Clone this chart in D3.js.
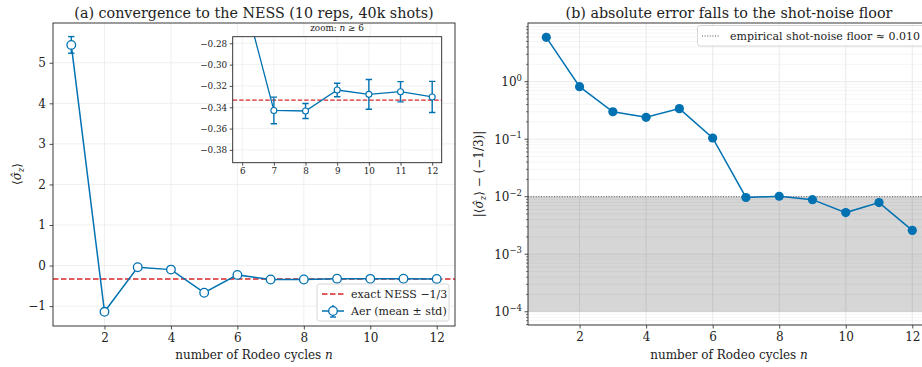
<!DOCTYPE html>
<html>
<head>
<meta charset="utf-8">
<script src="https://cdn.jsdelivr.net/npm/d3@7"></script>
<style>
  body { margin: 0; background: #fff; }
  svg { font-family: "DejaVu Serif", serif; }
  .tick text { fill: #222; font-family: "DejaVu Serif", serif; }
</style>
</head>
<body>
<div id="chart"></div>
<script>
// data
const cycles = [1, 2, 3, 4, 5, 6, 7, 8, 9, 10, 11, 12];
const meanSz = [5.44, -1.14, -0.04, -0.10, -0.67, -0.23, -0.343, -0.3435, -0.3238, -0.3279, -0.3254, -0.3303];
const stdSz = [0.205, 0.05, 0.04, 0.04, 0.05, 0.03, 0.0125, 0.007, 0.0064, 0.014, 0.0095, 0.0146];
const absErr = [5.9, 0.82, 0.30, 0.24, 0.34, 0.105, 0.0097, 0.0102, 0.0089, 0.0053, 0.0079, 0.0026];
const target = -1 / 3;
const floorVal = 0.010;
const floorLow = 1e-4;
const xTicks = [2, 4, 6, 8, 10, 12];
const yTicksA = [-1, 0, 1, 2, 3, 4, 5];
const insetFrom = 6; // inset shows n >= 6
const insetXTicks = [6, 7, 8, 9, 10, 11, 12];
const insetYTicks = [-0.38, -0.36, -0.34, -0.32, -0.30, -0.28];
const logTicks = [-4, -3, -2, -1, 0];

const blue = '#0072b2';
const red = '#d62728';
const gridCol = '#ebebeb';
const minus = s => String(s).replace('-', '\u2212');

const svg = d3.select('#chart').append('svg')
  .attr('width', 922).attr('height', 367);

svg.append('clipPath').attr('id', 'clipA').append('rect')
  .attr('x', 53).attr('y', 23).attr('width', 402).attr('height', 303);
svg.append('clipPath').attr('id', 'clipB').append('rect')
  .attr('x', 528).attr('y', 23).attr('width', 403).attr('height', 302);
svg.append('clipPath').attr('id', 'clipIn').append('rect')
  .attr('x', 232.7).attr('y', 36.7).attr('width', 209).attr('height', 126);

function styleAxis(g, fs) {
  g.attr('font-family', null);
  g.selectAll('.domain').remove();
  g.selectAll('.tick line').attr('stroke', '#222').attr('stroke-width', 0.8);
  g.selectAll('.tick text').attr('font-size', fs);
}

function frame(x0, y0, x1, y1) {
  svg.append('rect').attr('x', x0).attr('y', y0)
    .attr('width', x1 - x0).attr('height', y1 - y0)
    .attr('fill', 'none').attr('stroke', '#222').attr('stroke-width', 0.9);
}

// ---------- panel (a) ----------
const xA = d3.scaleLinear().domain([0.45, 12.55]).range([53, 455]);
const yA = d3.scaleLinear().domain([-1.49, 5.98]).range([326, 23]);

const gA = svg.append('g');
gA.append('g').selectAll('line').data(xTicks).join('line')
  .attr('x1', d => xA(d)).attr('x2', d => xA(d)).attr('y1', 23).attr('y2', 326)
  .attr('stroke', gridCol).attr('stroke-width', 0.8);
gA.append('g').selectAll('line').data(yTicksA).join('line')
  .attr('y1', d => yA(d)).attr('y2', d => yA(d)).attr('x1', 53).attr('x2', 455)
  .attr('stroke', gridCol).attr('stroke-width', 0.8);

const plotA = gA.append('g').attr('clip-path', 'url(#clipA)');
plotA.append('line')
  .attr('x1', 53).attr('x2', 455).attr('y1', yA(target)).attr('y2', yA(target))
  .attr('stroke', red).attr('stroke-width', 1.5).attr('stroke-dasharray', '5.5,2.5');

const line = (xs, ys, off) => d3.line().x((d, i) => xs(cycles[i + off])).y(d => ys(d));

function errorbars(g, xs, ys, idx) {
  const eb = g.append('g').selectAll('g').data(idx).join('g');
  eb.append('line')
    .attr('x1', i => xs(cycles[i])).attr('x2', i => xs(cycles[i]))
    .attr('y1', i => ys(meanSz[i] - stdSz[i])).attr('y2', i => ys(meanSz[i] + stdSz[i]))
    .attr('stroke', blue).attr('stroke-width', 1.4);
  [-1, 1].forEach(s => {
    eb.append('line')
      .attr('x1', i => xs(cycles[i]) - 3.2).attr('x2', i => xs(cycles[i]) + 3.2)
      .attr('y1', i => ys(meanSz[i] + s * stdSz[i])).attr('y2', i => ys(meanSz[i] + s * stdSz[i]))
      .attr('stroke', blue).attr('stroke-width', 1.4);
  });
}

errorbars(plotA, xA, yA, d3.range(cycles.length));
plotA.append('path').datum(meanSz).attr('d', line(xA, yA, 0))
  .attr('fill', 'none').attr('stroke', blue).attr('stroke-width', 1.5);
plotA.append('g').selectAll('circle').data(meanSz).join('circle')
  .attr('cx', (d, i) => xA(cycles[i])).attr('cy', d => yA(d)).attr('r', 4.3)
  .attr('fill', '#fff').attr('stroke', blue).attr('stroke-width', 1.3);

const axA = svg.append('g').attr('transform', 'translate(0,326)')
  .call(d3.axisBottom(xA).tickValues(xTicks).tickSize(3.5).tickPadding(3.5));
styleAxis(axA, 12);
const ayA = svg.append('g').attr('transform', 'translate(53,0)')
  .call(d3.axisLeft(yA).tickValues(yTicksA).tickSize(3.5).tickPadding(3.5).tickFormat(d => minus(d)));
styleAxis(ayA, 12);

// legend (a)
const legA = svg.append('g');
legA.append('rect').attr('x', 317).attr('y', 284).attr('width', 132).attr('height', 37)
  .attr('rx', 2.5).attr('fill', '#fff').attr('fill-opacity', 0.85)
  .attr('stroke', '#ccc').attr('stroke-width', 0.8);
legA.append('line').attr('x1', 322).attr('x2', 344).attr('y1', 294).attr('y2', 294)
  .attr('stroke', red).attr('stroke-width', 1.5).attr('stroke-dasharray', '5.5,2.5');
legA.append('text').attr('x', 351).attr('y', 298).attr('font-size', 11).attr('fill', '#222')
  .text('exact NESS \u22121/3');
legA.append('line').attr('x1', 322).attr('x2', 344).attr('y1', 311).attr('y2', 311)
  .attr('stroke', blue).attr('stroke-width', 1.5);
legA.append('line').attr('x1', 333).attr('x2', 333).attr('y1', 305).attr('y2', 317)
  .attr('stroke', blue).attr('stroke-width', 1.4);
legA.append('line').attr('x1', 330).attr('x2', 336).attr('y1', 317).attr('y2', 317)
  .attr('stroke', blue).attr('stroke-width', 1.4);
legA.append('circle').attr('cx', 333).attr('cy', 311).attr('r', 4.3)
  .attr('fill', '#fff').attr('stroke', blue).attr('stroke-width', 1.3);
legA.append('text').attr('x', 351).attr('y', 315).attr('font-size', 11).attr('fill', '#222')
  .text('Aer (mean \u00b1 std)');

frame(53, 23, 455, 326);

// ---------- inset ----------
const xI = d3.scaleLinear().domain([5.7, 12.3]).range([232.7, 441.7]);
const yI = d3.scaleLinear().domain([-0.392, -0.2738]).range([162.7, 36.7]);
const k0 = cycles.indexOf(insetFrom);

svg.append('rect').attr('x', 232.7).attr('y', 36.7).attr('width', 209).attr('height', 126)
  .attr('fill', '#fff');
const gI = svg.append('g');
gI.append('g').selectAll('line').data(insetXTicks).join('line')
  .attr('x1', d => xI(d)).attr('x2', d => xI(d)).attr('y1', 36.7).attr('y2', 162.7)
  .attr('stroke', gridCol).attr('stroke-width', 0.7);
gI.append('g').selectAll('line').data(insetYTicks).join('line')
  .attr('y1', d => yI(d)).attr('y2', d => yI(d)).attr('x1', 232.7).attr('x2', 441.7)
  .attr('stroke', gridCol).attr('stroke-width', 0.7);
const plotI = gI.append('g').attr('clip-path', 'url(#clipIn)');
plotI.append('line')
  .attr('x1', 232.7).attr('x2', 441.7).attr('y1', yI(target)).attr('y2', yI(target))
  .attr('stroke', red).attr('stroke-width', 1.3).attr('stroke-dasharray', '4.5,2');
errorbars(plotI, xI, yI, d3.range(k0, cycles.length));
plotI.append('path').datum(meanSz.slice(k0)).attr('d', line(xI, yI, k0))
  .attr('fill', 'none').attr('stroke', blue).attr('stroke-width', 1.3);
plotI.append('g').selectAll('circle').data(meanSz.slice(k0)).join('circle')
  .attr('cx', (d, i) => xI(cycles[i + k0])).attr('cy', d => yI(d)).attr('r', 3)
  .attr('fill', '#fff').attr('stroke', blue).attr('stroke-width', 1.1);

const axI = svg.append('g').attr('transform', 'translate(0,162.7)')
  .call(d3.axisBottom(xI).tickValues(insetXTicks).tickSize(3).tickPadding(2.5).tickFormat(d3.format('d')));
styleAxis(axI, 8.8);
const ayI = svg.append('g').attr('transform', 'translate(232.7,0)')
  .call(d3.axisLeft(yI).tickValues(insetYTicks).tickSize(3).tickPadding(2.5)
    .tickFormat(d => minus(d3.format('.2f')(d))));
styleAxis(ayI, 8.8);
frame(232.7, 36.7, 441.7, 162.7);

const tI = svg.append('text').attr('x', 337).attr('y', 31).attr('text-anchor', 'middle')
  .attr('font-size', 8.8).attr('fill', '#222');
tI.append('tspan').text('zoom: ');
tI.append('tspan').attr('font-style', 'italic').text('n');
tI.append('tspan').text(' \u2265 6');

// ---------- panel (b) ----------
const xB = d3.scaleLinear().domain([0.45, 12.55]).range([528, 930.6]);
const yB = d3.scaleLog().domain([Math.pow(10, -4.23), Math.pow(10, 1.02)]).range([325, 23]);

const minorVals = [];
for (let e = -5; e <= 1; e++) for (let m = 2; m <= 9; m++) {
  const v = m * Math.pow(10, e);
  if (v > yB.domain()[0] && v < yB.domain()[1]) minorVals.push(v);
}
const majorVals = logTicks.map(e => Math.pow(10, e));

const gB = svg.append('g');
gB.append('g').selectAll('line').data(minorVals).join('line')
  .attr('y1', d => yB(d)).attr('y2', d => yB(d)).attr('x1', 528).attr('x2', 931)
  .attr('stroke', '#f0f0f0').attr('stroke-width', 0.7);
gB.append('g').selectAll('line').data(majorVals).join('line')
  .attr('y1', d => yB(d)).attr('y2', d => yB(d)).attr('x1', 528).attr('x2', 931)
  .attr('stroke', '#e4e4e4').attr('stroke-width', 0.8);
gB.append('g').selectAll('line').data(xTicks).join('line')
  .attr('x1', d => xB(d)).attr('x2', d => xB(d)).attr('y1', 23).attr('y2', 325)
  .attr('stroke', '#e4e4e4').attr('stroke-width', 0.8);

const plotB = gB.append('g').attr('clip-path', 'url(#clipB)');
plotB.append('rect').attr('x', 528).attr('width', 403)
  .attr('y', yB(floorVal)).attr('height', yB(floorLow) - yB(floorVal))
  .attr('fill', '#000').attr('fill-opacity', 0.16);
plotB.append('line').attr('x1', 528).attr('x2', 931)
  .attr('y1', yB(floorVal)).attr('y2', yB(floorVal))
  .attr('stroke', '#555').attr('stroke-width', 1).attr('stroke-dasharray', '1,1.6');
plotB.append('path').datum(absErr).attr('d', line(xB, yB, 0))
  .attr('fill', 'none').attr('stroke', blue).attr('stroke-width', 1.5);
plotB.append('g').selectAll('circle').data(absErr).join('circle')
  .attr('cx', (d, i) => xB(cycles[i])).attr('cy', d => yB(d)).attr('r', 4.6)
  .attr('fill', blue);

const axB = svg.append('g').attr('transform', 'translate(0,325)')
  .call(d3.axisBottom(xB).tickValues(xTicks).tickSize(3.5).tickPadding(3.5));
styleAxis(axB, 12);

const ayB = svg.append('g').attr('transform', 'translate(528,0)');
ayB.selectAll('line.minor').data(minorVals).join('line').attr('class', 'minor')
  .attr('x1', -2).attr('x2', 0).attr('y1', d => yB(d)).attr('y2', d => yB(d))
  .attr('stroke', '#222').attr('stroke-width', 0.6);
ayB.selectAll('line.major').data(majorVals).join('line').attr('class', 'major')
  .attr('x1', -3.5).attr('x2', 0).attr('y1', d => yB(d)).attr('y2', d => yB(d))
  .attr('stroke', '#222').attr('stroke-width', 0.8);
const lt = ayB.selectAll('text').data(logTicks).join('text')
  .attr('x', -6).attr('y', e => yB(Math.pow(10, e)) + 4.5)
  .attr('text-anchor', 'end').attr('font-size', 12).attr('fill', '#222');
lt.append('tspan').text('10');
lt.append('tspan').attr('dy', -5.5).attr('font-size', 8.5).text(e => minus(e));

frame(528, 23, 931, 325);

// legend (b)
const legB = svg.append('g');
legB.append('rect').attr('x', 697.5).attr('y', 25.5).attr('width', 230).attr('height', 20.5)
  .attr('rx', 2.5).attr('fill', '#fff').attr('fill-opacity', 0.85)
  .attr('stroke', '#ccc').attr('stroke-width', 0.8);
legB.append('line').attr('x1', 702).attr('x2', 720).attr('y1', 36).attr('y2', 36)
  .attr('stroke', '#555').attr('stroke-width', 1).attr('stroke-dasharray', '1,1.6');
legB.append('text').attr('x', 730).attr('y', 40).attr('font-size', 11).attr('fill', '#222')
  .text('empirical shot-noise floor \u2248 0.010');

// ---------- titles and labels ----------
svg.append('text').attr('x', 254).attr('y', 17.5).attr('text-anchor', 'middle')
  .attr('font-size', 14.3).attr('fill', '#222')
  .text('(a) convergence to the NESS (10 reps, 40k shots)');
svg.append('text').attr('x', 729).attr('y', 17.5).attr('text-anchor', 'middle')
  .attr('font-size', 14.3).attr('fill', '#222')
  .text('(b) absolute error falls to the shot-noise floor');

function xLabel(cx) {
  const t = svg.append('text').attr('x', cx).attr('y', 359).attr('text-anchor', 'middle')
    .attr('font-size', 12).attr('fill', '#222');
  t.append('tspan').text('number of Rodeo cycles ');
  t.append('tspan').attr('font-style', 'italic').text('n');
}
xLabel(254);
xLabel(729);

function szLabel(t) {
  t.append('tspan').text('\u27e8');
  t.append('tspan').attr('font-style', 'italic').text('\u03c3\u0302');
  t.append('tspan').attr('font-style', 'italic').attr('font-size', 8.5).attr('dy', 2.5).text('z');
  t.append('tspan').attr('dy', -2.5).text('\u27e9');
}
const yl1 = svg.append('text').attr('transform', 'translate(21,174) rotate(-90)')
  .attr('text-anchor', 'middle').attr('font-size', 12).attr('fill', '#222');
szLabel(yl1);

const yl2 = svg.append('text').attr('transform', 'translate(483,174) rotate(-90)')
  .attr('text-anchor', 'middle').attr('font-size', 12).attr('fill', '#222');
yl2.append('tspan').text('|');
szLabel(yl2);
yl2.append('tspan').text(' \u2212 (\u22121/3)|');
</script>
</body>
</html>
